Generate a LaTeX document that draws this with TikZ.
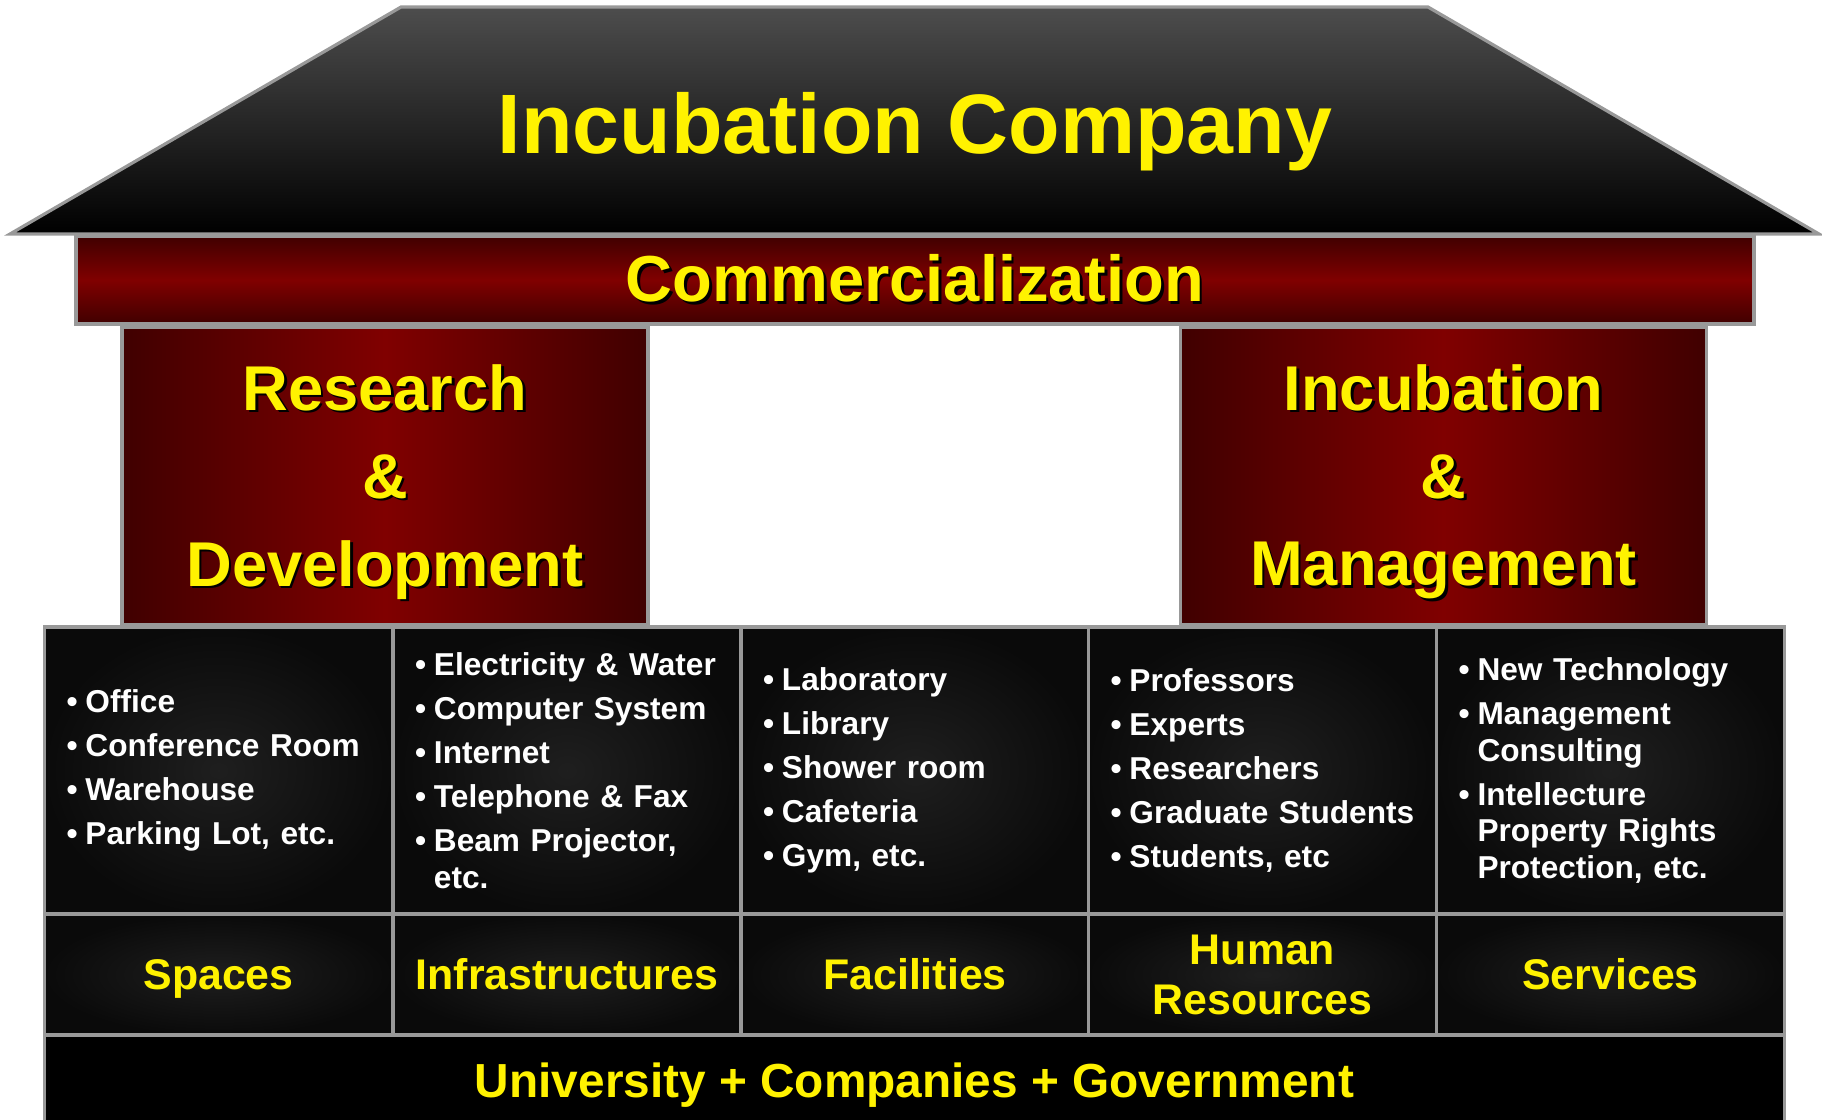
\documentclass[tikz,border=0pt]{standalone}
\usepackage{fontspec}
\setmainfont{Liberation Sans}
\usepackage{tikz}

\definecolor{darkred}{HTML}{400000}
\definecolor{midred}{HTML}{800000}
\definecolor{roofgray}{HTML}{4D4D4D}
\definecolor{rimgray}{HTML}{999999}

\newcommand{\shd}[1]{\leavevmode\rlap{\kern0.04em\raisebox{-0.04em}{\color{black}#1}}#1}
\newcommand{\itm}{\textbullet\nobreak\hspace{0.25em}}
\newcommand{\ind}{\hphantom{\textbullet\hspace{0.25em}}}

\begin{document}
\begin{tikzpicture}

	\useasboundingbox (0,0) rectangle (18.22,-11.19);

	\tikzstyle{rim}=[draw=rimgray, line width=0.9pt]
	\tikzstyle{beam}=[rim, top color=darkred, bottom color=darkred, middle color=midred, minimum width=16.78cm, minimum height=0.88cm, text=yellow, font=\fontsize{18.5}{22}\selectfont\bfseries]
	\tikzstyle{pillar}=[rim, left color=darkred, right color=darkred, middle color=midred, minimum width=5.26cm, minimum height=2.98cm, align=center, text=yellow, font=\fontsize{18}{25}\selectfont\bfseries]
	\tikzstyle{listcell}=[rim, inner color=black!88, outer color=black!96, text width=3.04cm, inner xsep=0.22cm, minimum height=2.87cm, align=left, text=white, font=\fontsize{9}{10.5}\selectfont\bfseries]
	\tikzstyle{namecell}=[rim, inner color=black!88, outer color=black!96, minimum width=3.48cm, minimum height=1.21cm, align=center, text=yellow, font=\fontsize{12.2}{14.2}\selectfont\bfseries]

	% roof
	\shade[rim, top color=roofgray, bottom color=black] (4.01,-0.07) -- (14.28,-0.07) -- (18.19,-2.34) -- (0.10,-2.34) -- cycle;
	\node[anchor=base, text=yellow, font=\fontsize{24}{28}\selectfont\bfseries] (H) at (9.15,-1.53) {Incubation Company};

	\node[beam] (C) at (9.15,-2.80) {\shd{Commercialization}};

	\node[pillar] (D) at (3.85,-4.76) {\shd{Research}\rule{0pt}{0.95em}\\\shd{\&}\\\shd{Development}};
	\node[pillar] (M) at (14.435,-4.76) {\shd{Incubation}\rule{0pt}{0.95em}\\\shd{\&}\\\shd{Management}};

	\node[listcell] (L1) at (2.185,-7.705) {\itm Office\\[2pt]\itm \mbox{Conference Room}\\[2pt]\itm Warehouse\\[2pt]\itm \mbox{Parking Lot, etc.}};
	\node[listcell] (L2) at (5.67,-7.705) {\itm \mbox{Electricity \& Water}\\[2pt]\itm \mbox{Computer System}\\[2pt]\itm Internet\\[2pt]\itm \mbox{Telephone \& Fax}\\[2pt]\itm \mbox{Beam Projector,}\\\ind etc.};
	\node[listcell] (L3) at (9.15,-7.705) {\itm Laboratory\\[2pt]\itm Library\\[2pt]\itm Shower room\\[2pt]\itm Cafeteria\\[2pt]\itm Gym, etc.};
	\node[listcell] (L4) at (12.625,-7.705) {\itm Professors\\[2pt]\itm Experts\\[2pt]\itm Researchers\\[2pt]\itm \mbox{Graduate Students}\\[2pt]\itm \mbox{Students, etc}};
	\node[listcell] (L5) at (16.105,-7.705) {\itm \mbox{New Technology}\\[2pt]\itm Management\\\ind Consulting\\[2pt]\itm Intellecture\\\ind \mbox{Property Rights}\\\ind \mbox{Protection, etc.}};

	\node[namecell, text depth=0pt] (S) at (2.185,-9.745) {Spaces};
	\node[namecell] (I) at (5.67,-9.745) {Infrastructures};
	\node[namecell] (F) at (9.15,-9.745) {Facilities};
	\node[namecell] (HR) at (12.625,-9.745) {Human\\Resources};
	\node[namecell] (V) at (16.105,-9.745) {Services};

	\node[rim, fill=black, minimum width=17.40cm, minimum height=0.9cm, text depth=0pt, text=yellow, font=\fontsize{13.6}{16}\selectfont\bfseries] (U) at (9.145,-10.80) {University + Companies + Government};

\end{tikzpicture}
\end{document}
